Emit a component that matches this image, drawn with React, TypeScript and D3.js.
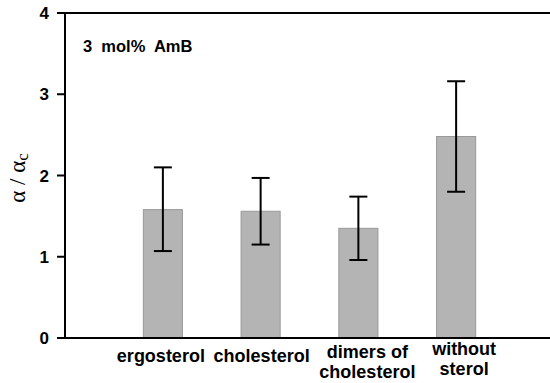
import React, { useEffect, useRef } from 'react'
import * as d3 from 'd3'

const categories = ['ergosterol', 'cholesterol', 'dimers of cholesterol', 'without sterol']
const labelLines = [['ergosterol'], ['cholesterol'], ['dimers of', 'cholesterol'], ['without', 'sterol']]
const means = [1.58, 1.56, 1.35, 2.48]
const errLow = [1.07, 1.15, 0.96, 1.80]
const errHigh = [2.10, 1.97, 1.74, 3.16]
const yTicks = [0, 1, 2, 3, 4]

const W = 550
const H = 383

const App = () => {
  const ref = useRef<SVGSVGElement>(null)

  useEffect(() => {
    const svg = d3.select(ref.current)
    svg.selectAll('*').remove()

    const left = 65
    const top = 13
    const bottom = 338

    const x = d3.scaleBand().domain(categories).range([114, 505]).paddingInner(0.6).paddingOuter(0.3)
    const y = d3.scaleLinear().domain([0, 4]).range([bottom, top])

    const font = 'Liberation Sans, Arial, Helvetica, sans-serif'

    // bars
    svg.selectAll('rect.bar')
      .data(categories)
      .enter()
      .append('rect')
      .attr('class', 'bar')
      .attr('x', d => x(d)!)
      .attr('y', (d, i) => y(means[i]))
      .attr('width', x.bandwidth())
      .attr('height', (d, i) => bottom - y(means[i]))
      .attr('fill', '#b4b4b4')
      .attr('stroke', '#999')
      .attr('stroke-width', 1)

    // error bars
    const cap = 9
    const eb = svg.append('g').attr('stroke', '#000').attr('stroke-width', 2)
    categories.forEach((c, i) => {
      const cx = x(c)! + x.bandwidth() / 2
      eb.append('line').attr('x1', cx).attr('x2', cx).attr('y1', y(errLow[i])).attr('y2', y(errHigh[i]))
      eb.append('line').attr('x1', cx - cap).attr('x2', cx + cap).attr('y1', y(errLow[i])).attr('y2', y(errLow[i]))
      eb.append('line').attr('x1', cx - cap).attr('x2', cx + cap).attr('y1', y(errHigh[i])).attr('y2', y(errHigh[i]))
    })

    // frame: left axis, top line, bottom axis
    const axis = svg.append('g').attr('stroke', '#000').attr('stroke-width', 2)
    axis.append('line').attr('x1', left).attr('x2', left).attr('y1', top).attr('y2', bottom)
    axis.append('line').attr('x1', left - 1).attr('x2', W).attr('y1', top).attr('y2', top)
    axis.append('line').attr('x1', left - 1).attr('x2', W).attr('y1', bottom).attr('y2', bottom)

    // y ticks
    yTicks.forEach(t => {
      axis.append('line').attr('x1', left - 8).attr('x2', left).attr('y1', y(t)).attr('y2', y(t))
      svg.append('text')
        .attr('x', 49)
        .attr('y', y(t) + 6)
        .attr('text-anchor', 'end')
        .attr('font-family', font)
        .attr('font-weight', 'bold')
        .attr('font-size', 17)
        .text(t)
    })

    // category labels
    const nudge = [-2, 1, 9, 8]
    labelLines.forEach((lines, i) => {
      const cx = x(categories[i])! + x.bandwidth() / 2 + nudge[i]
      const base = lines.length === 1 ? 362 : (i === 3 ? 355 : 358)
      lines.forEach((ln, j) => {
        svg.append('text')
          .attr('x', cx)
          .attr('y', base + j * 19.5)
          .attr('text-anchor', 'middle')
          .attr('font-family', font)
          .attr('font-weight', 'bold')
          .attr('font-size', 18)
          .text(ln)
      })
    })

    // annotation
    svg.append('text')
      .attr('x', 83)
      .attr('y', 52)
      .attr('font-family', font)
      .attr('font-weight', 'bold')
      .attr('font-size', 16.5)
      .attr('xml:space', 'preserve')
      .style('white-space', 'pre')
      .text('3  mol%  AmB')

    // y axis title
    const yl = svg.append('text')
      .attr('transform', 'translate(25,178) rotate(-90)')
      .attr('text-anchor', 'middle')
      .attr('font-family', 'Liberation Serif, Times New Roman, serif')
      .attr('font-size', 23)
    yl.append('tspan').text('α / α')
    yl.append('tspan').attr('font-size', 17).attr('dy', 3).text('c')
  }, [])

  return (
    <svg
      ref={ref}
      width={W}
      height={H}
      style={{ position: 'absolute', left: 0, top: 0, background: '#fff' }}
    />
  )
}

export default App
